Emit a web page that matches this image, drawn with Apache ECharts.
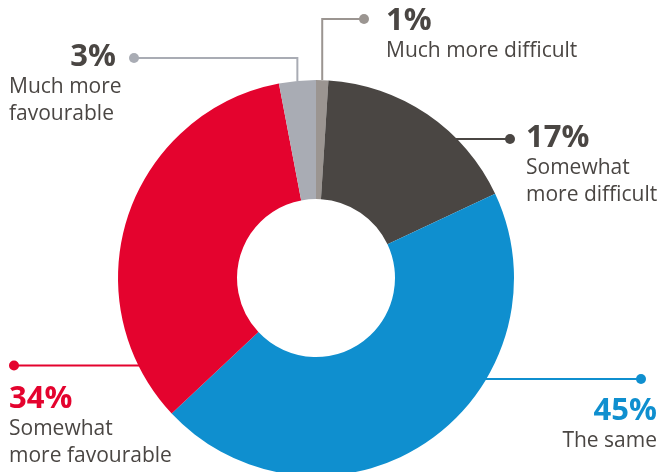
<!DOCTYPE html>
<html><head><meta charset="utf-8">
<script src="https://cdn.jsdelivr.net/npm/echarts@6/dist/echarts.min.js"></script>
<style>html,body{margin:0;padding:0;background:#fff}#c{width:661px;height:472px}</style>
</head><body><div id="c"></div>
<script>
// ---- data ----
const categories = ['Much more difficult', 'Somewhat more difficult', 'The same', 'Somewhat more favourable', 'Much more favourable'];
const values = [1, 17, 45, 34, 3];
const percentLabels = ['1%', '17%', '45%', '34%', '3%'];
const displayLabels = ['Much more difficult', 'Somewhat\nmore difficult', 'The same', 'Somewhat\nmore favourable', 'Much more\nfavourable'];

// ---- style / layout ----
const sliceColors = ['#9b9591', '#4a4643', '#0f8fcf', '#e4032e', '#a9acb4'];
const pctColors = ['#4a4643', '#4a4643', '#0f8fcf', '#e4032e', '#4a4643'];
const FONT = 'Open Sans';
const CX = 316, CY = 278, R0 = 79, R1 = 198;
const labelPos = [
  { dot: [364, 19], text: [386, 5], align: 'left', leader: 'v' },
  { dot: [510, 139], text: [526, 122], align: 'left', leader: 'h' },
  { dot: [641, 379], text: [657, 395], align: 'right', leader: 'h' },
  { dot: [14, 365.5], text: [9, 383], align: 'left', leader: 'h' },
  { dot: [134, 58], text: [9, 41], align: 'left', leader: 'v', width: 130, pctAlign: 'right', pctPad: 23 }
];

const total = values.reduce((a, b) => a + b, 0);
function midAngle(i) {
  let cum = 0;
  for (let k = 0; k < i; k++) cum += values[k];
  return 2 * Math.PI * (cum + values[i] / 2) / total;
}

const data = categories.map((name, i) => {
  const lp = labelPos[i];
  const label = {
    formatter: '{p|' + percentLabels[i] + '}\n{t|' + displayLabels[i].split('\n').join('}\n{t|') + '}',
    overflow: 'none',
    rich: {
      p: { color: pctColors[i], fontFamily: FONT, fontSize: 31, fontWeight: 'bold', lineHeight: 33,
           align: lp.pctAlign || lp.align, padding: [0, lp.pctPad || 0, 0, 0] },
      t: { color: '#4a4643', fontFamily: FONT, fontSize: 21, lineHeight: 27, align: lp.align }
    }
  };
  if (lp.width) label.width = lp.width;
  return {
    name, value: values[i],
    itemStyle: { color: sliceColors[i] },
    label,
    labelLine: { lineStyle: { color: sliceColors[i], width: 2 } }
  };
});

const chart = echarts.init(document.getElementById('c'));
chart.setOption({
  animation: false,
  backgroundColor: '#fff',
  series: [{
    type: 'pie',
    center: [CX, CY],
    radius: [R0, R1],
    startAngle: 90,
    clockwise: true,
    avoidLabelOverlap: false,
    silent: true,
    emphasis: { disabled: true },
    label: { show: true, position: 'outer' },
    labelLine: { show: true, smooth: false, length: 10, length2: 10 },
    labelLayout: function (params) {
      const i = params.dataIndex;
      const lp = labelPos[i];
      let pts;
      if (lp.leader === 'v') {
        const a = midAngle(i);
        const sx = CX + R1 * Math.sin(a), sy = CY - R1 * Math.cos(a);
        pts = [[sx, sy], [sx, lp.dot[1]], [lp.dot[0], lp.dot[1]]];
      } else {
        const dy = lp.dot[1] - CY;
        const dx = Math.sqrt(R1 * R1 - dy * dy);
        const sx = lp.dot[0] > CX ? CX + dx - 1 : CX - dx + 1;
        pts = [[sx, lp.dot[1]], [(sx + lp.dot[0]) / 2, lp.dot[1]], [lp.dot[0], lp.dot[1]]];
      }
      return { x: lp.text[0], y: lp.text[1], align: lp.align, verticalAlign: 'top', labelLinePoints: pts };
    },
    data
  }],
  graphic: labelPos.map((lp, i) => ({
    type: 'circle', silent: true, z: 100,
    shape: { cx: lp.dot[0], cy: lp.dot[1], r: 5 },
    style: { fill: sliceColors[i] }
  }))
});
</script>
</body></html>
